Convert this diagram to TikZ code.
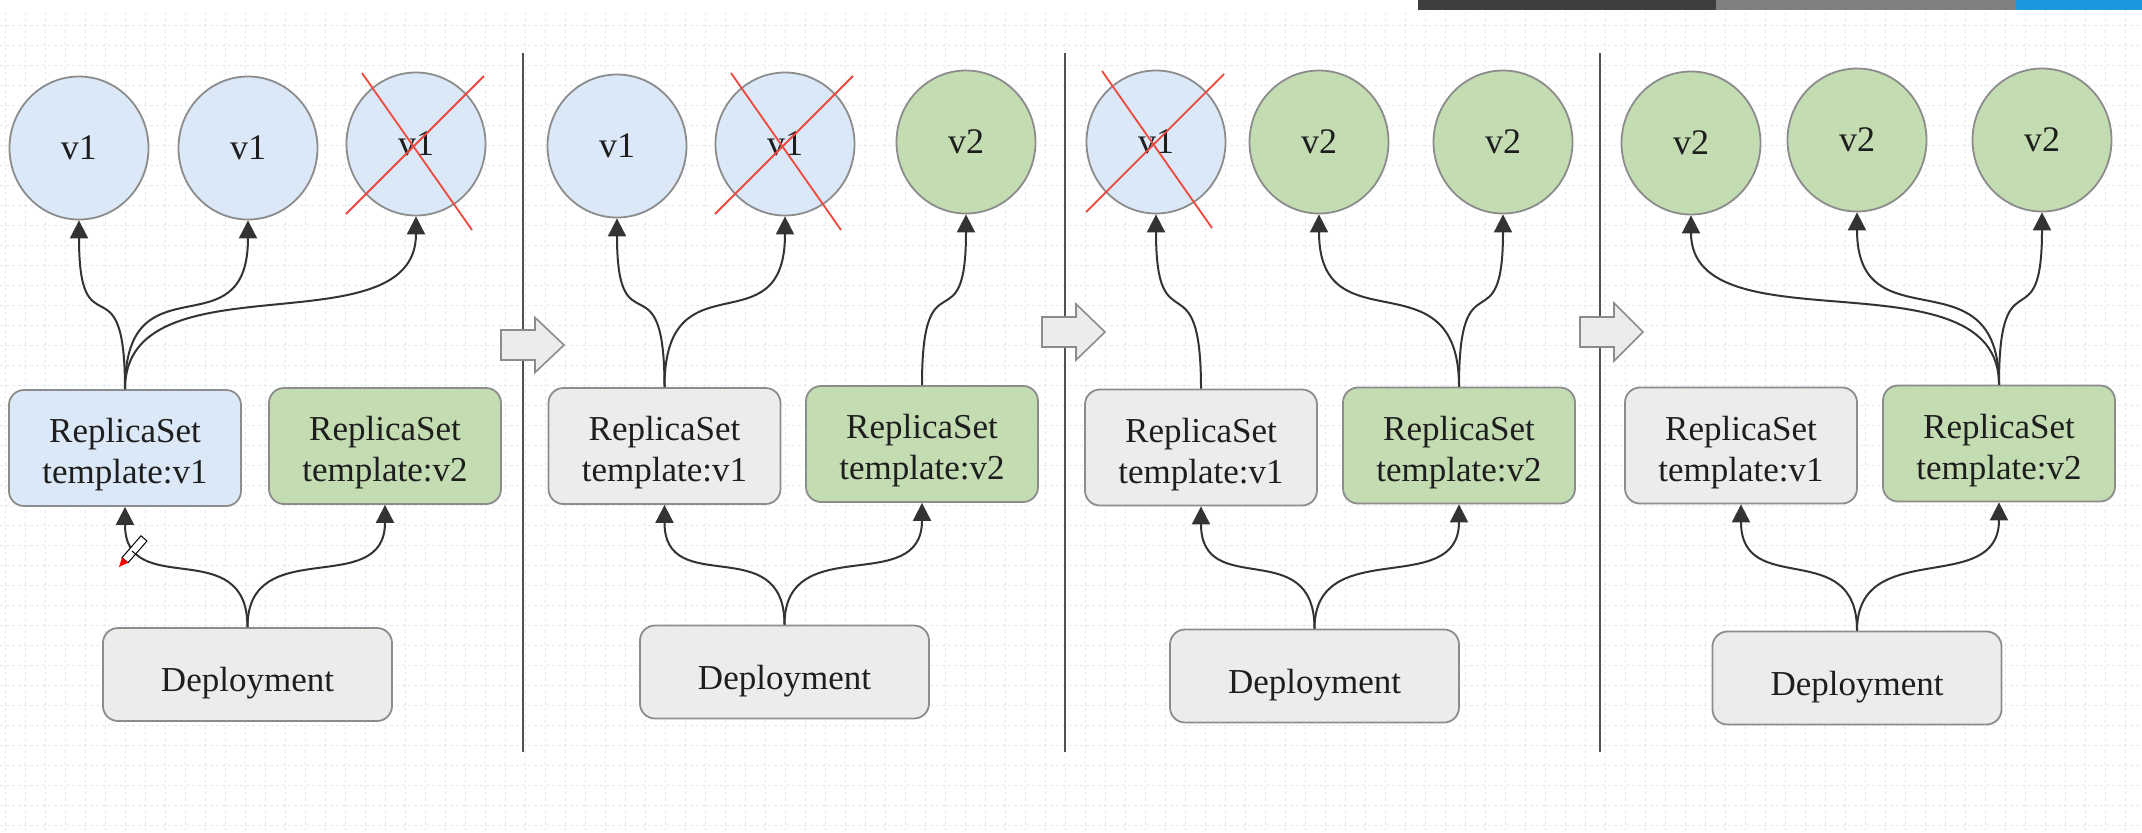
\documentclass[tikz,border=0pt]{standalone}
\usepackage{fontspec}
\setmainfont{Liberation Serif}
\usetikzlibrary{arrows.meta,shapes.geometric,calc}
\definecolor{bluef}{RGB}{219,232,247}
\definecolor{greenf}{RGB}{196,220,178}
\definecolor{grayf}{RGB}{236,236,234}
\definecolor{strokec}{RGB}{140,140,140}
\definecolor{connc}{RGB}{51,51,51}
\definecolor{redc}{RGB}{240,72,60}
\definecolor{divc}{RGB}{80,80,80}
\definecolor{txt}{RGB}{30,30,30}
\definecolor{gridc}{RGB}{228,233,241}
\definecolor{bardark}{RGB}{62,63,60}
\definecolor{bargray}{RGB}{128,129,126}
\definecolor{barblue}{RGB}{28,152,224}
\newcommand\curv[3]{\draw[conn] (#1.north) .. controls +(0,-#3) and +(0,#3) .. (#2.south);}
\newcommand\crossout[1]{%
  \draw[cross] ($(#1)+(-54,-71)$) -- ($(#1)+(56,86)$);
  \draw[cross] ($(#1)+(68,-68)$) -- ($(#1)+(-70,70)$);}
\newcommand\blkarrow[3]{%
  \draw[garrow] (#1,#2-15) -- (#1+34,#2-15) -- (#1+34,#2-#3) -- (#1+63,#2) -- (#1+34,#2+#3) -- (#1+34,#2+15) -- (#1,#2+15) -- cycle;}
\newcommand\rstext[1]{\raisebox{0pt}[35.5pt][0pt]{\begin{tabular}[b]{@{}c@{}}ReplicaSet\\template:#1\end{tabular}}}
\begin{document}
\begin{tikzpicture}[x=0.5pt,y=-0.5pt,
  pod/.style={ellipse,draw=strokec,line width=0.9pt,minimum width=69.5pt,minimum height=71.5pt,inner sep=0pt,font=\fontsize{18}{20}\selectfont,text=txt},
  podv1/.style={pod,fill=bluef},
  podv2/.style={pod,fill=greenf},
  rsbox/.style={draw=strokec,line width=0.9pt,rounded corners=7.5pt,minimum width=116pt,minimum height=58pt,inner sep=0pt,font=\fontsize{17.5}{20.5}\selectfont,text=txt},
  rsv1/.style={rsbox,fill=bluef},
  rsv2/.style={rsbox,fill=greenf},
  rsold/.style={rsbox,fill=grayf},
  depbox/.style={draw=strokec,line width=0.9pt,rounded corners=7.5pt,minimum width=144.5pt,minimum height=46.5pt,inner sep=0pt,font=\fontsize{17.5}{20}\selectfont,text=txt,fill=grayf,text height=17pt,text depth=0pt},
  conn/.style={draw=connc,line width=1pt,-{Triangle[width=9pt,length=9pt]}},
  cross/.style={draw=redc,line width=0.9pt},
  divider/.style={draw=divc,line width=1pt},
  garrow/.style={draw=strokec,fill=grayf,line width=0.8pt,line join=miter},
  gridline/.style={draw=gridc,line width=0.4pt,dash pattern=on 1.5pt off 1.5pt},
]
\useasboundingbox (0,0) rectangle (2142,832);
\fill[white] (0,0) rectangle (2142,832);
% background grid
\foreach \gx in {0,20,...,2140} {\draw[gridline] (\gx+5,12) -- (\gx+5,832);}
\foreach \gy in {25,45,...,825} {\draw[gridline] (0,\gy) -- (2142,\gy);}
% progress bar
\fill[bardark] (1418,0) rectangle (1716,10);
\fill[bargray] (1716,0) rectangle (2016,10);
\fill[barblue] (2016,0) rectangle (2142,10);
% dividers
\coordinate (d1t) at (523,53); \coordinate (d1b) at (523,752);
\coordinate (d2t) at (1065,53); \coordinate (d2b) at (1065,752);
\coordinate (d3t) at (1600,53); \coordinate (d3b) at (1600,752);
\draw[divider] (d1t) -- (d1b);
\draw[divider] (d2t) -- (d2b);
\draw[divider] (d3t) -- (d3b);
% block arrows
\blkarrow{501}{345}{27.5}
\blkarrow{1042}{332}{28}
\blkarrow{1580}{332}{29}
% ---------- panel 1
\node[podv1] (c11) at (79,148) {v1};
\node[podv1] (c12) at (248,148) {v1};
\node[podv1] (c13) at (416,144) {v1};
\node[rsv1] (rs11) at (125,448) {\rstext{v1}};
\node[rsv2] (rs12) at (385,446) {\rstext{v2}};
\node[depbox] (dep1) at (247.5,674.5) {Deployment};
\crossout{c13}
\curv{rs11}{c11}{135}
\curv{rs11}{c12}{135}
\curv{rs11}{c13}{135}
\curv{dep1}{rs11}{95}
\curv{dep1}{rs12}{95}
% ---------- panel 2
\node[podv1] (c21) at (617,146) {v1};
\node[podv1] (c22) at (785,144) {v1};
\node[podv2] (c23) at (966,142) {v2};
\node[rsold] (rs21) at (664.5,446) {\rstext{v1}};
\node[rsv2] (rs22) at (922,444) {\rstext{v2}};
\node[depbox] (dep2) at (784.5,672) {Deployment};
\crossout{c22}
\curv{rs21}{c21}{135}
\curv{rs21}{c22}{135}
\curv{rs22}{c23}{135}
\curv{dep2}{rs21}{95}
\curv{dep2}{rs22}{95}
% ---------- panel 3
\node[podv1] (c31) at (1156,142) {v1};
\node[podv2] (c32) at (1319,142) {v2};
\node[podv2] (c33) at (1503,142) {v2};
\node[rsold] (rs31) at (1201,447.5) {\rstext{v1}};
\node[rsv2] (rs32) at (1459,445.5) {\rstext{v2}};
\node[depbox] (dep3) at (1314.5,676) {Deployment};
\crossout{c31}
\curv{rs31}{c31}{135}
\curv{rs32}{c32}{135}
\curv{rs32}{c33}{135}
\curv{dep3}{rs31}{95}
\curv{dep3}{rs32}{95}
% ---------- panel 4
\node[podv2] (c41) at (1691,143) {v2};
\node[podv2] (c42) at (1857,140) {v2};
\node[podv2] (c43) at (2042,140) {v2};
\node[rsold] (rs41) at (1741,445.5) {\rstext{v1}};
\node[rsv2] (rs42) at (1999,443.5) {\rstext{v2}};
\node[depbox] (dep4) at (1857,678) {Deployment};
\curv{rs42}{c41}{135}
\curv{rs42}{c42}{135}
\curv{rs42}{c43}{135}
\curv{dep4}{rs41}{95}
\curv{dep4}{rs42}{95}
% pencil cursor
\draw[black,line width=0.5pt,fill=white] (128,562.8) -- (122,557.6) -- (141,535.8) -- (147,541) -- cycle;
\draw[black,line width=0.5pt] (132,551) -- (136,554.5);
\fill[red] (119,567) -- (128,562.8) -- (122,557.6) -- cycle;
\end{tikzpicture}
\end{document}
